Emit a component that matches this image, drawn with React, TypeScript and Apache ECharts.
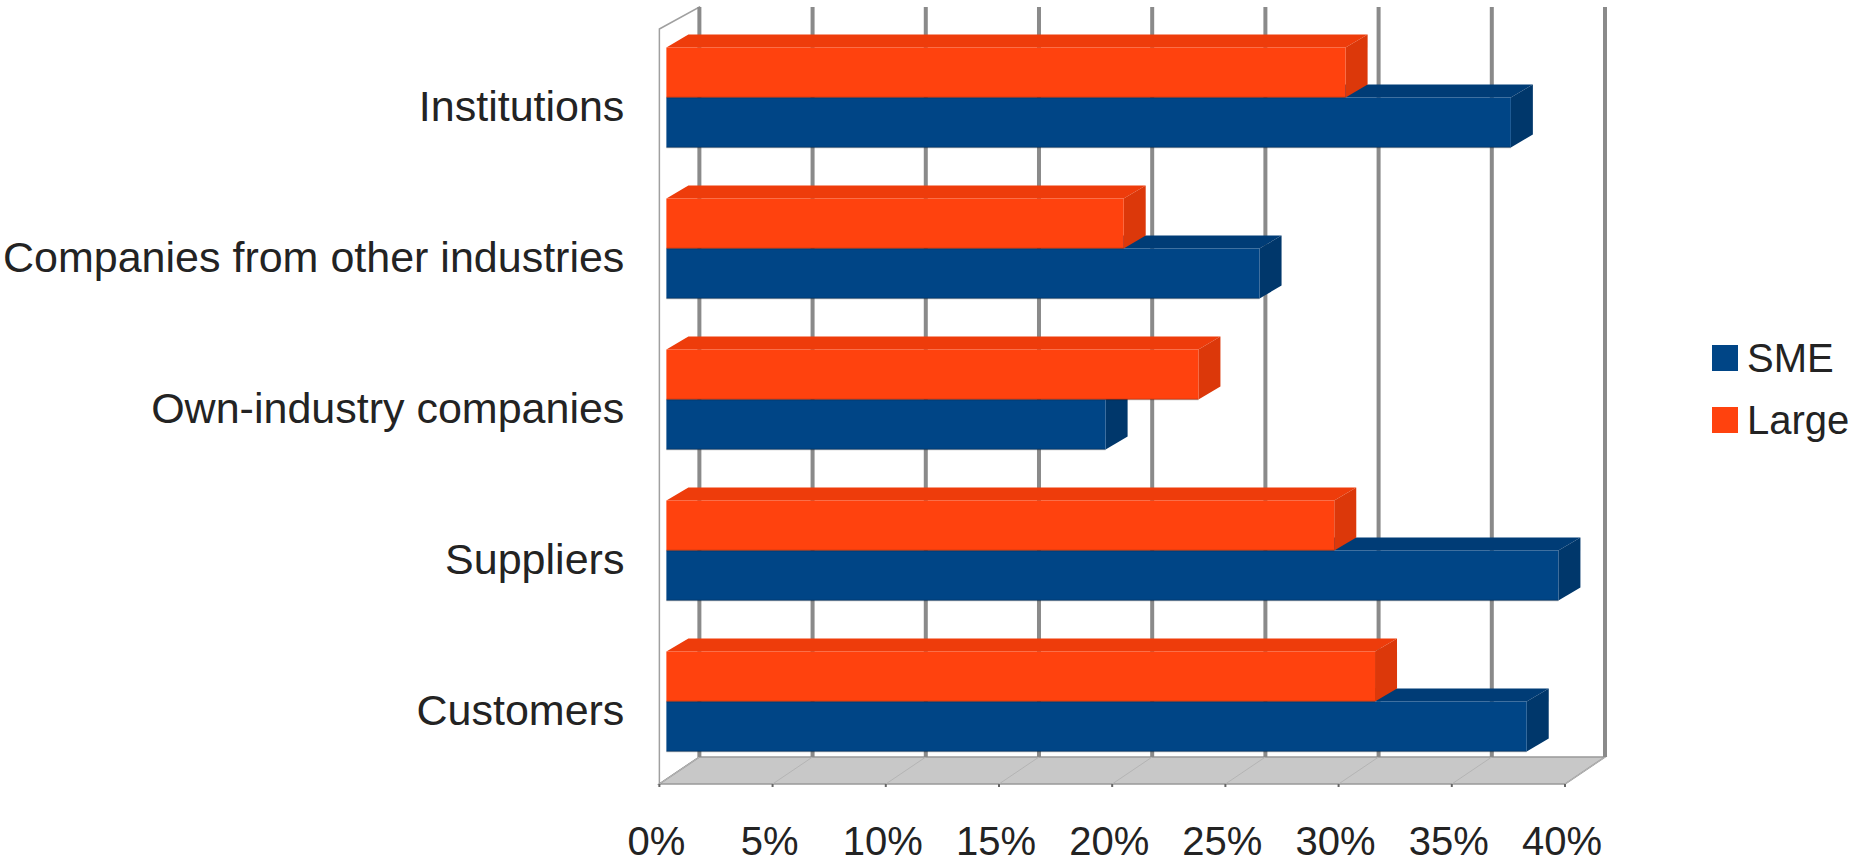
import React, { useEffect, useRef } from "react";
import * as echarts from "echarts";

const categories = [
  "Customers",
  "Suppliers",
  "Own-industry companies",
  "Companies from other industries",
  "Institutions",
];
const smeValues = [38.0, 39.4, 19.4, 26.2, 37.3];
const largeValues = [31.3, 29.5, 23.5, 20.2, 30.0];
const xTicks = [0, 5, 10, 15, 20, 25, 30, 35, 40];
const seriesNames = ["SME", "Large"];

const SME_COLORS = { front: "#004586", top: "#003c76", side: "#00376b" };
const LARGE_COLORS = { front: "#ff420e", top: "#ee3c0b", side: "#dc380a" };

const BAR_DEPTH = [22, -13];
const FRONT = [-7, 7];
const BACK = [33, -20];
const FONT = "'Liberation Sans', Arial, sans-serif";
const TEXT = "#232323";

function barRenderer(colors: { front: string; top: string; side: string }, upper: boolean) {
  return (params: any, api: any) => {
    const cat = api.value(0);
    const val = api.value(1);
    const start = api.coord([0, cat]);
    const end = api.coord([val, cat]);
    const band = api.size([0, 1])[1];
    const t = band * 0.331;
    const y0 = upper ? start[1] - t : start[1];
    const y1 = y0 + t;
    const x0 = start[0];
    const x1 = end[0];
    const [dx, dy] = BAR_DEPTH;
    return {
      type: "group",
      children: [
        {
          type: "polygon",
          shape: { points: [[x0, y0], [x0 + dx, y0 + dy], [x1 + dx, y0 + dy], [x1, y0]] },
          style: { fill: colors.top },
        },
        {
          type: "polygon",
          shape: { points: [[x1, y0], [x1 + dx, y0 + dy], [x1 + dx, y1 + dy], [x1, y1]] },
          style: { fill: colors.side },
        },
        {
          type: "rect",
          shape: { x: x0, y: y0, width: x1 - x0, height: t },
          style: { fill: colors.front },
        },
        {
          type: "line",
          shape: { x1: x0, y1: y1, x2: x1, y2: y1 },
          style: { stroke: "rgba(0,0,0,0.25)", lineWidth: 1.5 },
        },
      ],
    };
  };
}

function frameRenderer(params: any, api: any) {
  const cs = params.coordSys;
  const top = cs.y;
  const bot = cs.y + cs.height;
  const xs = xTicks.map((v) => api.coord([v, 0])[0]);
  const X0 = xs[0];
  const XN = xs[xs.length - 1];
  const children: any[] = [];
  // left wall
  children.push({
    type: "polygon",
    shape: {
      points: [
        [X0 + FRONT[0], top + 7],
        [X0 + BACK[0], top - 15],
        [X0 + BACK[0], bot + BACK[1]],
        [X0 + FRONT[0], bot + FRONT[1]],
      ],
    },
    style: { fill: "#ffffff", stroke: "#a0a0a0", lineWidth: 1.5 },
  });
  // floor
  children.push({
    type: "polygon",
    shape: {
      points: [
        [X0 + FRONT[0], bot + FRONT[1]],
        [XN + FRONT[0], bot + FRONT[1]],
        [XN + BACK[0], bot + BACK[1]],
        [X0 + BACK[0], bot + BACK[1]],
      ],
    },
    style: { fill: "#c8c8c8", stroke: "#999999", lineWidth: 1.5 },
  });
  xs.forEach((x) => {
    children.push({
      type: "line",
      shape: { x1: x + BACK[0], y1: bot + BACK[1], x2: x + FRONT[0], y2: bot + FRONT[1] },
      style: { stroke: "#b4b4b4", lineWidth: 1 },
    });
    children.push({
      type: "line",
      shape: { x1: x + FRONT[0], y1: bot + FRONT[1], x2: x + FRONT[0], y2: bot + FRONT[1] + 3 },
      style: { stroke: "#666666", lineWidth: 2 },
    });
  });
  // back wall grid lines
  xs.forEach((x) => {
    children.push({
      type: "line",
      shape: { x1: x + BACK[0], y1: top - 15, x2: x + BACK[0], y2: bot + BACK[1] },
      style: { stroke: "#8a8a8a", lineWidth: 4 },
    });
  });
  return { type: "group", children };
}

export default function App() {
  const ref = useRef<HTMLDivElement>(null);
  useEffect(() => {
    if (!ref.current) return;
    const chart = echarts.init(ref.current, undefined, { renderer: "svg" });
    const smeData = smeValues.map((v, i) => [i, v]);
    const largeData = largeValues.map((v, i) => [i, v]);
    chart.setOption({
      animation: false,
      backgroundColor: "#ffffff",
      textStyle: { fontFamily: FONT },
      grid: { left: 665, right: 292, top: 22, bottom: 85, containLabel: false },
      xAxis: {
        type: "value",
        min: 0,
        max: 40,
        interval: 5,
        axisLine: { show: false },
        axisTick: { show: false },
        splitLine: { show: false },
        axisLabel: {
          formatter: "{value}%",
          fontSize: 40,
          lineHeight: 40,
          color: TEXT,
          fontFamily: FONT,
          margin: 44,
          padding: [0, 20, 0, 0],
        },
      },
      yAxis: {
        type: "category",
        data: categories,
        axisLine: { show: false },
        axisTick: { show: false },
        splitLine: { show: false },
        axisLabel: {
          fontSize: 43,
          color: TEXT,
          fontFamily: FONT,
          margin: 42,
          verticalAlign: "top",
          lineHeight: 17,
        },
      },
      legend: {
        orient: "vertical",
        left: 1707,
        top: 333,
        icon: "rect",
        itemWidth: 26,
        itemHeight: 26,
        itemGap: 22,
        data: seriesNames,
        textStyle: { fontSize: 40, color: TEXT, fontFamily: FONT, padding: [0, 0, 0, 4] },
      },
      series: [
        {
          type: "custom",
          name: "frame",
          renderItem: frameRenderer,
          data: [[0, 0]],
          encode: { x: 1, y: 0 },
          silent: true,
          z: 1,
        },
        {
          type: "custom",
          name: seriesNames[0],
          renderItem: barRenderer(SME_COLORS, false),
          data: smeData,
          encode: { x: 1, y: 0 },
          itemStyle: { color: SME_COLORS.front },
          z: 2,
        },
        {
          type: "custom",
          name: seriesNames[1],
          renderItem: barRenderer(LARGE_COLORS, true),
          data: largeData,
          encode: { x: 1, y: 0 },
          itemStyle: { color: LARGE_COLORS.front },
          z: 3,
        },
      ],
    });
    return () => chart.dispose();
  }, []);
  return (
    <div
      ref={ref}
      style={{ position: "absolute", left: 0, top: 0, width: 1864, height: 862, background: "#fff" }}
    />
  );
}
